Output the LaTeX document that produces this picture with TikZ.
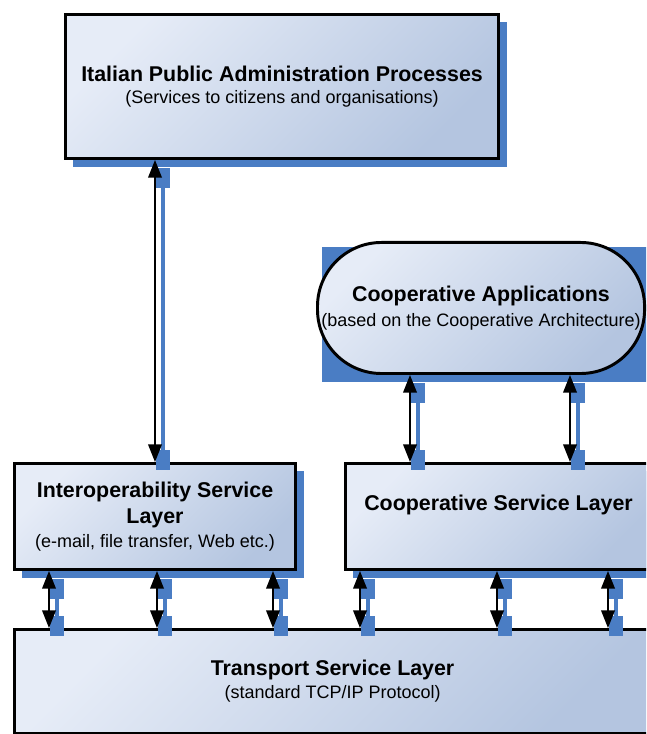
\documentclass[tikz,border=0pt]{standalone}
\usepackage{fontspec}
\setmainfont{Liberation Sans}
\usetikzlibrary{arrows.meta,shadows}
\definecolor{boxlight}{HTML}{E6ECF7}
\definecolor{boxdark}{HTML}{B4C5E0}
\definecolor{shadowblue}{HTML}{4A7DC4}
\newcommand{\layername}{\fontsize{15.2}{17.8}\selectfont\bfseries}
\newcommand{\layernote}{\fontsize{12.8}{17.8}\selectfont\mdseries}
\tikzset{
  layer/.style={draw, line width=2.1pt, left color=boxlight, right color=boxdark, shading angle=45, anchor=north west, align=center, inner sep=0pt},
  dropped/.style={general shadow={fill=shadowblue, shadow xshift=0.2cm, shadow yshift=-0.2cm}},
  link/.style={line width=1.2pt, {Triangle[width=0.34cm,length=0.44cm]}-{Triangle[width=0.34cm,length=0.44cm]}},
  linkshadow/.style={draw=shadowblue, line width=2.4pt, {Rectangle[width=0.35cm,length=0.5cm]}-{Rectangle[width=0.35cm,length=0.5cm]}, transform canvas={xshift=0.2cm, yshift=-0.2cm}},
}
\begin{document}
\begin{tikzpicture}[x=0.025cm, y=-0.025cm]
  \useasboundingbox (0,0) rectangle (646,734);
  \clip (0,0) rectangle (646,734);

  % boxes
  \node[layer, dropped, minimum width=10.825cm, minimum height=3.6cm] (proc) at (64,13)
    {\layername Italian Public Administration Processes\\[4pt] \layernote (Services to citizens and organisations)};
  \fill[shadowblue] (322,247) rectangle (660,382);
  \node[layer, minimum width=8.175cm, minimum height=3.275cm, rounded corners=1.6cm] (coopapp) at (316,241)
    {\layername Cooperative Applications\\[4pt] \layernote (based on the Cooperative Architecture)};
  \node[layer, dropped, minimum width=7.025cm, minimum height=2.65cm] (interop) at (13,462)
    {\layername Interoperability Service\\[4pt] \layername Layer\\[3pt] \layernote (e-mail, file transfer, Web etc.)};
  \node[layer, dropped, minimum width=7.65cm, minimum height=2.65cm] (coopsvc) at (344,462) {};
  \node[font=\layername] (coopsvctext) at ([yshift=0.3cm]coopsvc.center) {Cooperative Service Layer};
  \node[layer, minimum width=15.9cm, minimum height=2.6cm] (transport) at (13,628)
    {\layername Transport Service Layer\\[3pt] \layernote (standard TCP/IP Protocol)};

  % shadows of the links
  \draw[linkshadow] (proc.south -| 155,0) -- (interop.north -| 155,0);
  \foreach \x in {410,570}
    \draw[linkshadow] (coopapp.south -| \x,0) -- (coopsvc.north -| \x,0);
  \foreach \x/\up in {49/interop,157/interop,273/interop,360/coopsvc,497/coopsvc,608/coopsvc}
    \draw[linkshadow] (\up.south -| \x,0) -- (transport.north -| \x,0);

  % links
  \draw[link] (proc.south -| 155,0) -- (interop.north -| 155,0);
  \foreach \x in {410,570}
    \draw[link] (coopapp.south -| \x,0) -- (coopsvc.north -| \x,0);
  \foreach \x/\up in {49/interop,157/interop,273/interop,360/coopsvc,497/coopsvc,608/coopsvc}
    \draw[link] (\up.south -| \x,0) -- (transport.north -| \x,0);
\end{tikzpicture}
\end{document}
